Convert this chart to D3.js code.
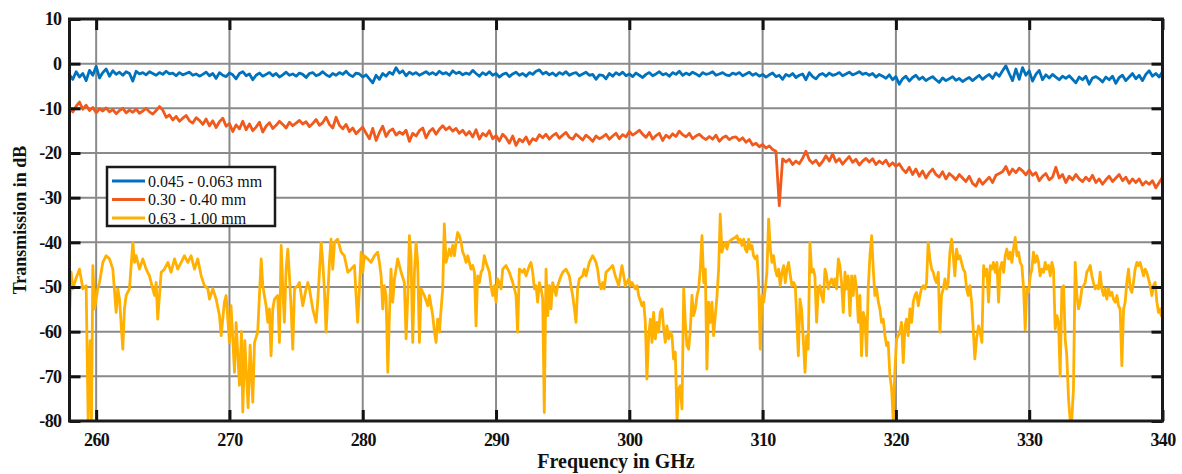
<!DOCTYPE html>
<html>
<head>
<meta charset="utf-8">
<script src="https://cdn.jsdelivr.net/npm/d3@7"></script>
<style>
  body { margin: 0; background: #fff; }
  svg text { font-family: "Liberation Serif", "Times New Roman", serif; }
</style>
</head>
<body>
<script>
// series names and colours
const seriesNames = ["0.045 - 0.063 mm", "0.30 - 0.40 mm", "0.63 - 1.00 mm"];
const seriesColors = ["#0072bd", "#f05a1c", "#ffb000"];

const xTicks = [260, 270, 280, 290, 300, 310, 320, 330, 340];
const yTicks = [10, 0, -10, -20, -30, -40, -50, -60, -70, -80];

// blue and orange are read every 0.25 GHz from 258 to 340 GHz
const gridStart = 258;
const gridStep = 0.25;

const blueDb = [
  -2.5,-3.5,-1.8,-3.0,-2.2,-3.8,-1.5,-2.6,-0.6,-3.2, -2.0,-1.2,-2.8,-1.6,-2.4,-1.9,-2.6,-1.8,-2.2,-3.9,
  -1.7,-2.3,-2.0,-2.5,-1.8,-2.2,-2.6,-2.0,-2.4,-1.7, -2.3,-2.1,-2.7,-2.0,-2.5,-2.2,-1.9,-2.6,-2.3,-2.8,
  -2.4,-1.9,-2.7,-2.2,-3.3,-2.0,-2.6,-2.9,-2.1,-2.5, -3.4,-2.2,-1.8,-2.7,-2.3,-3.6,-2.6,-2.1,-2.8,-2.4,
  -2.0,-2.7,-2.2,-3.0,-2.5,-1.9,-2.6,-2.3,-2.8,-2.1, -2.4,-3.1,-2.2,-2.0,-2.7,-2.4,-1.8,-2.5,-2.9,-2.2,
  -2.6,-2.0,-2.4,-1.7,-2.5,-2.9,-2.1,-2.3,-3.0,-2.5, -3.4,-4.3,-2.6,-3.5,-2.2,-2.8,-1.9,-2.4,-0.9,-2.1,
  -1.6,-2.7,-1.9,-2.4,-2.0,-2.6,-2.2,-1.8,-2.4,-2.0, -2.5,-1.7,-2.3,-2.0,-2.6,-1.6,-2.2,-1.9,-2.5,-2.1,
  -2.4,-1.5,-2.2,-2.8,-2.0,-2.5,-1.8,-2.6,-2.2,-3.0, -2.4,-2.1,-2.9,-2.3,-1.9,-2.6,-2.2,-2.8,-2.0,-2.4,
  -1.7,-1.4,-2.3,-1.9,-2.5,-2.1,-2.7,-2.0,-2.4,-1.8, -2.6,-2.2,-2.0,-2.7,-2.3,-1.9,-2.6,-2.4,-3.5,-2.5,
  -2.6,-3.4,-2.2,-2.8,-2.0,-2.5,-1.9,-2.7,-2.3,-2.9, -2.1,-2.6,-3.1,-2.4,-2.0,-2.7,-2.3,-1.8,-2.5,-2.2,
  -2.8,-2.0,-2.4,-1.7,-2.6,-2.1,-2.5,-1.9,-2.3,-2.8, -2.0,-2.4,-2.2,-1.8,-2.6,-2.3,-2.0,-2.5,-2.7,-2.1,
  -2.4,-2.0,-2.7,-2.3,-1.9,-2.6,-2.2,-2.8,-2.4,-3.0, -2.5,-2.1,-2.9,-2.6,-3.5,-2.4,-2.8,-2.2,-3.1,-2.6,
  -2.3,-3.6,-2.0,-2.9,-3.4,-2.5,-2.2,-2.8,-2.1,-2.6, -2.4,-2.0,-2.7,-2.3,-1.9,-2.5,-2.2,-1.8,-2.4,-2.1,
  -2.6,-2.2,-3.0,-2.4,-2.8,-3.3,-2.5,-3.6,-2.9,-4.6, -3.4,-2.8,-3.9,-3.1,-2.6,-3.5,-3.0,-3.8,-3.3,-2.9,
  -3.6,-4.2,-3.2,-3.8,-3.4,-2.9,-3.7,-3.3,-4.0,-3.5, -3.1,-3.8,-3.2,-2.6,-3.5,-2.9,-2.4,-3.3,-2.1,-2.8,
  -1.6,-0.5,-2.2,-3.8,-1.2,-3.5,-0.9,-2.6,-1.6,-3.9, -2.4,-1.5,-3.6,-2.5,-3.2,-2.4,-3.0,-3.6,-2.8,-3.3,
  -2.7,-3.5,-4.3,-3.0,-3.6,-2.8,-4.6,-3.2,-2.9,-3.4, -4.1,-3.0,-3.6,-2.8,-4.4,-3.1,-2.6,-3.8,-3.0,-2.2,
  -3.4,-2.6,-3.8,-2.4,-1.6,-2.8,-2.2,-3.0,-1.8
];

const orangeDb = [
  -10.0,-10.8,-9.5,-8.6,-10.2,-9.3,-10.5,-9.8,-11.0,-10.1, -10.6,-9.9,-10.8,-10.3,-11.2,-10.5,-10.0,-11.0,-10.4,-10.9,
  -10.2,-11.1,-10.6,-10.0,-10.8,-11.3,-10.5,-9.6,-10.4,-12.0, -11.5,-12.6,-11.8,-12.9,-12.2,-11.6,-12.8,-13.3,-12.1,-12.7,
  -13.6,-12.4,-13.9,-12.8,-14.3,-13.0,-12.2,-14.0,-13.4,-15.2, -13.7,-14.6,-12.9,-14.8,-13.5,-15.0,-14.2,-13.1,-15.3,-14.0,
  -13.2,-14.5,-13.8,-12.9,-13.6,-14.4,-13.1,-13.9,-13.3,-12.7, -13.5,-13.0,-14.1,-13.4,-12.5,-13.8,-13.2,-12.0,-13.6,-14.4,
  -12.0,-13.8,-14.6,-13.6,-15.2,-14.4,-15.7,-14.9,-14.2,-15.6, -16.8,-14.5,-17.2,-15.4,-14.0,-16.3,-15.1,-14.6,-16.0,-15.3,
  -15.8,-14.9,-17.4,-15.6,-16.2,-15.0,-14.4,-16.6,-15.2,-14.5, -15.8,-14.7,-13.9,-14.8,-14.2,-15.1,-14.5,-15.6,-14.9,-16.0,
  -15.2,-16.4,-14.8,-16.9,-15.6,-16.2,-15.0,-16.8,-16.1,-17.3, -15.8,-16.6,-17.8,-16.2,-18.3,-16.9,-17.5,-16.4,-18.0,-16.8,
  -17.2,-15.9,-16.6,-15.8,-16.9,-16.1,-15.6,-16.7,-16.0,-15.4, -16.5,-16.9,-15.8,-16.4,-17.1,-16.0,-16.6,-17.4,-16.2,-16.8,
  -16.4,-15.8,-16.9,-16.2,-15.6,-16.8,-15.9,-16.4,-15.2,-16.0, -15.5,-14.9,-15.8,-16.5,-15.4,-16.9,-16.1,-15.6,-17.2,-16.0,
  -16.6,-15.7,-16.3,-15.1,-15.9,-16.4,-15.6,-16.8,-16.2,-15.8, -16.5,-17.0,-16.3,-16.9,-16.0,-17.4,-16.6,-16.2,-17.0,-16.5,
  -16.4,-17.2,-16.6,-17.6,-17.0,-18.2,-17.8,-18.6,-18.1,-18.9, -18.4,-19.2,-19.6,-31.8,-21.3,-22.0,-21.4,-22.6,-21.8,-22.4,
  -21.2,-19.6,-21.5,-22.3,-21.6,-22.8,-21.9,-20.6,-21.8,-20.2, -22.0,-21.3,-22.5,-21.6,-20.8,-22.1,-21.4,-22.7,-21.8,-21.2,
  -22.0,-21.3,-22.6,-21.8,-22.4,-21.6,-22.9,-22.2,-23.0,-22.4, -23.6,-24.4,-23.2,-24.8,-23.6,-25.2,-24.0,-25.6,-24.4,-23.6,
  -24.8,-25.4,-24.2,-25.8,-24.6,-25.2,-26.0,-24.8,-25.6,-26.4, -25.2,-26.8,-27.4,-25.8,-27.0,-26.2,-25.4,-26.6,-25.0,-24.6,
  -24.2,-23.0,-24.8,-23.6,-24.4,-23.4,-24.0,-24.9,-23.8,-25.0, -24.4,-26.2,-25.2,-24.6,-26.0,-25.4,-23.2,-25.6,-24.8,-26.6,
  -25.2,-26.0,-24.8,-25.8,-26.4,-25.4,-26.2,-25.0,-26.6,-25.8, -27.0,-26.0,-25.2,-26.4,-25.6,-24.8,-26.2,-25.4,-26.8,-25.8,
  -26.6,-25.8,-27.2,-26.4,-27.0,-26.2,-27.8,-26.6,-25.4
];

// yellow trace read at its turning points: [GHz, dB]
const yellowPts = [
  [258.0,-56.4],[258.12,-46.7],[258.25,-50.4],[258.5,-48],[258.75,-46],[259.0,-50.4],[259.25,-49.7],[259.4,-80],
  [259.55,-62],[259.65,-80],[259.75,-45.2],[259.88,-54.9],[260.12,-50.4],[260.25,-49],[260.5,-44.5],[260.75,-43],
  [261.0,-43.7],[261.25,-46],[261.5,-55.7],[261.62,-50.4],[261.75,-52.7],[262.0,-63.9],[262.12,-54.9],[262.25,-51.9],
  [262.5,-50.4],[262.75,-40],[262.88,-44.5],[263.0,-43],[263.25,-46],[263.5,-43.7],[263.75,-46],[264.0,-47.5],
  [264.25,-50.4],[264.38,-51.9],[264.5,-49],[264.62,-57.2],[264.88,-46.7],[265.12,-46],[265.38,-44.5],[265.62,-46.7],
  [265.88,-43.7],[266.12,-46],[266.38,-44.5],[266.62,-43],[266.88,-44.5],[267.12,-43],[267.38,-46],[267.62,-43.7],
  [267.88,-47.5],[268.12,-49.7],[268.38,-50.4],[268.5,-52.7],[268.75,-50.4],[269.0,-52.7],[269.25,-56.4],[269.38,-60.9],
  [269.62,-53.4],[269.75,-51.9],[270.0,-62.4],[270.12,-54.2],[270.38,-69.1],[270.5,-58],[270.75,-72],[270.9,-60],
  [271.0,-78],[271.15,-62],[271.4,-77],[271.55,-63],[271.75,-75.8],[271.88,-62.4],[272.12,-60.1],[272.38,-43.7],
  [272.5,-49.7],[272.62,-51.9],[272.75,-54.2],[272.88,-57.9],[273.0,-54.9],[273.12,-65.4],[273.25,-54.9],[273.38,-52.7],
  [273.62,-51.9],[273.75,-62.4],[273.88,-40.7],[274.0,-50.4],[274.12,-57.9],[274.25,-46],[274.38,-41.5],[274.5,-47.5],
  [274.62,-54.2],[274.75,-63.9],[274.88,-50.4],[275.12,-49.7],[275.25,-49],[275.5,-54.2],[275.75,-50.4],[275.88,-49],
  [276.0,-50.4],[276.25,-54.9],[276.5,-57.9],[276.62,-53.4],[276.88,-40],[277.0,-44.5],[277.12,-50.4],[277.25,-60.1],
  [277.5,-44.5],[277.62,-39.3],[277.75,-46],[277.88,-40],[278.12,-39.3],[278.38,-42.2],[278.62,-43],[278.88,-46.7],
  [279.12,-46],[279.38,-45.2],[279.5,-51.9],[279.62,-57.9],[279.75,-50.4],[279.88,-42.2],[280.0,-46.7],[280.12,-43],
  [280.38,-43.7],[280.62,-44.5],[280.88,-43],[281.12,-42.2],[281.25,-44.5],[281.38,-47.5],[281.5,-54.9],[281.62,-49.7],
  [281.75,-51.9],[281.88,-69.1],[282.0,-56.4],[282.12,-46],[282.25,-53.4],[282.38,-48.2],[282.62,-43.7],[282.88,-46.7],
  [283.12,-49],[283.25,-61.6],[283.38,-51.9],[283.5,-38.5],[283.62,-43],[283.75,-62.4],[283.88,-46.7],[284.0,-40],
  [284.12,-44.5],[284.25,-62.4],[284.38,-50.4],[284.62,-51.9],[284.88,-54.2],[285.0,-51.9],[285.25,-56.4],[285.38,-60.1],
  [285.5,-62.4],[285.62,-57.2],[285.75,-60.1],[285.88,-54.9],[286.0,-50.4],[286.12,-35.9],[286.25,-44.5],[286.38,-43],
  [286.5,-41.5],[286.62,-43],[286.75,-40.7],[286.88,-43],[287.0,-40],[287.12,-37.8],[287.25,-38.5],[287.38,-40],
  [287.5,-42.2],[287.62,-43],[287.75,-44.5],[287.88,-43],[288.0,-44.5],[288.12,-46],[288.25,-45.2],[288.38,-46.7],
  [288.5,-58.7],[288.62,-47.5],[288.75,-49],[288.88,-46.7],[289.0,-46],[289.12,-43],[289.25,-44.5],[289.5,-46.7],
  [289.62,-49.7],[289.75,-51.9],[289.88,-49.7],[290.0,-53.4],[290.12,-48.2],[290.25,-49],[290.38,-50.4],[290.5,-46],
  [290.75,-45.2],[291.0,-46.7],[291.25,-49],[291.38,-50.4],[291.5,-51.9],[291.62,-60.1],[291.75,-46],[292.0,-46.7],
  [292.12,-46],[292.25,-47.5],[292.5,-45.2],[292.62,-44.5],[292.75,-46.7],[292.88,-50.4],[293.0,-49.7],[293.12,-53.4],
  [293.25,-49],[293.38,-50.4],[293.5,-52.7],[293.62,-78.1],[293.75,-46],[293.88,-56.4],[294.0,-49.7],[294.12,-54.9],
  [294.25,-49],[294.38,-50.4],[294.5,-51.9],[294.62,-49.7],[294.88,-47.5],[295.0,-46.7],[295.25,-46],[295.5,-47.5],
  [295.62,-49.7],[295.75,-51.9],[295.88,-54.9],[296.0,-57.9],[296.12,-50.4],[296.25,-48.2],[296.5,-47.5],[296.62,-46],
  [296.75,-47.5],[297.0,-44.5],[297.25,-43],[297.38,-43.7],[297.5,-44.5],[297.62,-46],[297.75,-49],[297.88,-50.4],
  [298.0,-49],[298.12,-50.4],[298.25,-46.7],[298.5,-46],[298.75,-45.2],[298.95,-47.5],[299.2,-49.7],[299.45,-45.2],
  [299.58,-47.5],[299.7,-49.7],[299.95,-48.2],[300.08,-49.7],[300.2,-49],[300.45,-50.4],[300.58,-49.7],[300.7,-51.9],
  [300.95,-54.2],[301.08,-53.4],[301.2,-57.9],[301.32,-70.6],[301.45,-60.9],[301.58,-57.2],[301.7,-62.4],[301.82,-55.7],
  [301.95,-61.6],[302.08,-57.9],[302.2,-60.1],[302.32,-55.7],[302.45,-54.9],[302.58,-59.4],[302.7,-62.4],[302.82,-58.7],
  [302.95,-61.6],[303.08,-60.1],[303.2,-60.9],[303.32,-66.1],[303.45,-64.6],[303.58,-80],[303.7,-72.8],[303.82,-72.1],
  [303.95,-77.3],[304.08,-50.4],[304.2,-57.9],[304.32,-63.1],[304.45,-63.9],[304.58,-59.4],[304.7,-51.9],[304.82,-56.4],
  [304.95,-54.9],[305.08,-51.9],[305.2,-50.4],[305.32,-46],[305.45,-38.5],[305.58,-49],[305.7,-46],[305.82,-68.4],
  [305.95,-53.4],[306.08,-57.9],[306.2,-53.4],[306.32,-60.9],[306.45,-56.4],[306.58,-51.9],[306.7,-46],[306.82,-33.7],
  [306.95,-42.2],[307.08,-40.7],[307.2,-40],[307.32,-41.5],[307.45,-40],[307.7,-39.3],[307.95,-38.9],[308.08,-38.5],
  [308.2,-40],[308.32,-39.3],[308.45,-40.7],[308.58,-39.3],[308.7,-41.5],[308.82,-42.2],[308.95,-39.3],[309.08,-41.5],
  [309.2,-40.7],[309.32,-43],[309.45,-43.7],[309.58,-43],[309.7,-49],[309.82,-63.9],[309.95,-51.9],[310.08,-53.4],
  [310.2,-50.4],[310.32,-46.7],[310.45,-34.8],[310.58,-41.5],[310.7,-44.5],[310.82,-43],[310.95,-46],[311.08,-47.5],
  [311.2,-46],[311.32,-49.7],[311.45,-46.7],[311.58,-45.2],[311.7,-49],[311.82,-46],[311.95,-44.5],[312.08,-47.5],
  [312.2,-49.7],[312.32,-49],[312.45,-49.7],[312.68,-65.4],[312.8,-52.7],[312.92,-54.9],[313.05,-61.6],[313.18,-69.1],
  [313.3,-60.9],[313.42,-63.9],[313.55,-40],[313.68,-46.7],[313.8,-46],[313.92,-47.5],[314.05,-57.9],[314.18,-50.4],
  [314.3,-49.7],[314.42,-51.9],[314.55,-53.4],[314.68,-46],[314.8,-47.5],[314.92,-50.4],[315.05,-49],[315.18,-48.2],
  [315.3,-49.7],[315.42,-48.2],[315.55,-50.4],[315.68,-43.7],[315.8,-45.2],[315.92,-49],[316.05,-55.7],[316.18,-46.7],
  [316.3,-50.4],[316.42,-47.5],[316.55,-56.4],[316.68,-47.5],[316.8,-51.9],[316.92,-47.5],[317.05,-50.4],[317.18,-57.9],
  [317.3,-51.9],[317.42,-65.4],[317.55,-55.7],[317.68,-57.2],[317.8,-65.4],[317.92,-50.4],[318.05,-43],[318.18,-38.5],
  [318.3,-46],[318.42,-51.9],[318.55,-50.4],[318.68,-53.4],[318.8,-54.9],[318.92,-57.9],[319.05,-57.2],[319.18,-60.9],
  [319.3,-63.1],[319.42,-62.4],[319.55,-69.9],[319.68,-72.8],[319.8,-80],[319.92,-69.1],[320.05,-61.6],[320.18,-60.9],
  [320.3,-60.1],[320.42,-57.9],[320.55,-66.9],[320.68,-58.7],[320.8,-57.2],[320.92,-60.9],[321.05,-54.9],[321.18,-57.9],
  [321.3,-53.4],[321.42,-51.9],[321.55,-51.2],[321.68,-54.2],[321.8,-51.9],[321.92,-50.4],[322.05,-49.7],[322.18,-50.4],
  [322.3,-49],[322.42,-40],[322.55,-43.7],[322.68,-46],[322.8,-46.7],[322.92,-48.2],[323.05,-49],[323.18,-46.7],
  [323.3,-60.1],[323.42,-51.9],[323.55,-50.4],[323.68,-48.2],[323.8,-50.4],[323.92,-49],[324.05,-42.2],[324.18,-39.3],
  [324.3,-43],[324.42,-47.5],[324.55,-41.5],[324.68,-43.7],[324.8,-43],[324.92,-44.5],[325.05,-46],[325.18,-46.7],
  [325.3,-50.4],[325.42,-51.9],[325.55,-49.7],[325.68,-53.4],[325.8,-59.4],[325.92,-66.1],[326.05,-61.6],[326.2,-58.7],
  [326.32,-60.1],[326.45,-62.4],[326.58,-45.2],[326.7,-47.5],[326.82,-46],[326.95,-53.4],[327.08,-45.2],[327.2,-46],
  [327.32,-44.5],[327.45,-46.7],[327.58,-44.5],[327.7,-53.4],[327.82,-46],[327.95,-44.5],[328.08,-46.7],[328.2,-43],
  [328.32,-41.5],[328.45,-43.7],[328.58,-42.2],[328.7,-44.5],[328.82,-41.5],[328.95,-38.9],[329.08,-43],[329.2,-42.2],
  [329.32,-44.5],[329.45,-45.2],[329.58,-50.4],[329.7,-59.6],[329.82,-50.4],[329.95,-51.2],[330.08,-47.5],[330.2,-46],
  [330.32,-42.2],[330.45,-44.5],[330.58,-43],[330.7,-44.5],[330.82,-47.5],[330.95,-46],[331.08,-46.7],[331.2,-44.5],
  [331.32,-46],[331.45,-45.2],[331.58,-47.5],[331.7,-44.5],[331.82,-46],[331.95,-59.4],[332.08,-56.4],[332.2,-57.9],
  [332.32,-69.9],[332.45,-50.4],[332.58,-49.7],[332.7,-61.6],[332.82,-65.4],[332.95,-75.1],[333.08,-80],[333.2,-79.6],
  [333.32,-72.8],[333.45,-44.5],[333.58,-51.9],[333.7,-54.9],[333.82,-53.4],[333.95,-50.4],[334.08,-49.7],[334.2,-49],
  [334.32,-46.7],[334.45,-46],[334.58,-45.2],[334.7,-47.5],[334.82,-49],[334.95,-50.4],[335.08,-49.7],[335.2,-50.4],
  [335.32,-46.7],[335.45,-50.4],[335.58,-51.9],[335.7,-50.4],[335.82,-52.7],[335.95,-50.4],[336.08,-51.9],[336.2,-51.2],
  [336.32,-52.7],[336.45,-53.4],[336.58,-51.9],[336.7,-54.2],[336.82,-54.9],[336.95,-67.6],[337.08,-54.9],[337.2,-53.4],
  [337.32,-49],[337.45,-46],[337.58,-50.4],[337.7,-51.2],[337.82,-49],[337.95,-46],[338.08,-44.5],[338.2,-45.2],
  [338.32,-44.5],[338.45,-46],[338.58,-47.5],[338.7,-46],[338.82,-46.7],[338.95,-48.2],[339.08,-49.7],[339.2,-51.9],
  [339.32,-49.7],[339.45,-49],[339.58,-53.4],[339.7,-55.7],[339.82,-54.9],[339.9,-56.4],[340.0,-56]
];

const width = 1182;
const height = 474;
const plot = { left: 69.5, right: 1162.5, top: 19, bottom: 421 };

const x = d3.scaleLinear().domain([258, 340]).range([plot.left, plot.right]);
const y = d3.scaleLinear().domain([-80, 10]).range([plot.bottom, plot.top]);

const gridSeries = (vals) => vals.map((v, i) => [gridStart + i * gridStep, v]);
const series = [gridSeries(blueDb), gridSeries(orangeDb), yellowPts];

const svg = d3.create("svg")
  .attr("width", width)
  .attr("height", height)
  .attr("viewBox", [0, 0, width, height]);

svg.append("defs").append("clipPath").attr("id", "plotclip")
  .append("rect")
  .attr("x", plot.left).attr("y", plot.top)
  .attr("width", plot.right - plot.left).attr("height", plot.bottom - plot.top);

// grid
const grid = svg.append("g").attr("stroke", "#8a8a8a").attr("stroke-width", 2);
grid.selectAll("line.v").data(xTicks).join("line")
  .attr("x1", d => x(d)).attr("x2", d => x(d))
  .attr("y1", plot.top).attr("y2", plot.bottom);
grid.selectAll("line.h").data(yTicks).join("line")
  .attr("x1", plot.left).attr("x2", plot.right)
  .attr("y1", d => y(d)).attr("y2", d => y(d));

// data lines
const line = d3.line().x(d => x(d[0])).y(d => y(d[1]));
svg.append("g").attr("clip-path", "url(#plotclip)")
  .selectAll("path").data(series).join("path")
  .attr("fill", "none")
  .attr("stroke", (d, i) => seriesColors[i])
  .attr("stroke-width", 2.8)
  .attr("stroke-linejoin", "round")
  .attr("d", line);

// axes with inward ticks; plain hyphen minus like the original
const tickLen = 11;
const plain = d => String(d);
const styleAxis = g => {
  g.select(".domain").remove();
  g.selectAll(".tick line").attr("stroke", "#111").attr("stroke-width", 3);
  g.selectAll(".tick text")
    .attr("fill", "#111")
    .attr("font-size", 18)
    .attr("font-weight", "bold")
    .attr("letter-spacing", "-0.6px");
};

svg.append("g").attr("transform", `translate(0,${plot.bottom})`)
  .call(d3.axisBottom(x).tickValues(xTicks).tickFormat(plain).tickSizeInner(-tickLen).tickSizeOuter(0).tickPadding(12))
  .call(styleAxis);
svg.append("g").attr("transform", `translate(0,${plot.top})`)
  .call(d3.axisTop(x).tickValues(xTicks).tickSizeInner(-tickLen).tickSizeOuter(0).tickFormat(""))
  .call(styleAxis);
svg.append("g").attr("transform", `translate(${plot.left},0)`)
  .call(d3.axisLeft(y).tickValues(yTicks).tickFormat(plain).tickSizeInner(-tickLen).tickSizeOuter(0).tickPadding(8))
  .call(styleAxis);
svg.append("g").attr("transform", `translate(${plot.right},0)`)
  .call(d3.axisRight(y).tickValues(yTicks).tickSizeInner(-tickLen).tickSizeOuter(0).tickFormat(""))
  .call(styleAxis);

// frame
svg.append("rect")
  .attr("x", plot.left).attr("y", plot.top)
  .attr("width", plot.right - plot.left).attr("height", plot.bottom - plot.top)
  .attr("fill", "none").attr("stroke", "#1a1a1a").attr("stroke-width", 3);

// axis titles
svg.append("text")
  .attr("x", (plot.left + plot.right) / 2).attr("y", 468)
  .attr("text-anchor", "middle")
  .attr("font-size", 20).attr("font-weight", "bold").attr("fill", "#111")
  .text("Frequency in GHz");
svg.append("text")
  .attr("transform", `translate(26,${(plot.top + plot.bottom) / 2}) rotate(-90)`)
  .attr("text-anchor", "middle")
  .attr("font-size", 18).attr("font-weight", "bold").attr("fill", "#111")
  .text("Transmission in dB");

// legend
const legend = svg.append("g").attr("transform", "translate(107,167)");
legend.append("rect")
  .attr("width", 168).attr("height", 59)
  .attr("fill", "#fff").attr("stroke", "#1a1a1a").attr("stroke-width", 2.5);
const rows = legend.selectAll("g").data(seriesNames).join("g")
  .attr("transform", (d, i) => `translate(0,${14 + i * 18.5})`);
rows.append("line")
  .attr("x1", 5).attr("x2", 38)
  .attr("stroke", (d, i) => seriesColors[i]).attr("stroke-width", 3);
rows.append("text")
  .attr("x", 41).attr("dy", "0.35em")
  .attr("font-size", 16).attr("fill", "#111")
  .text(d => d);

document.body.appendChild(svg.node());
</script>
</body>
</html>
